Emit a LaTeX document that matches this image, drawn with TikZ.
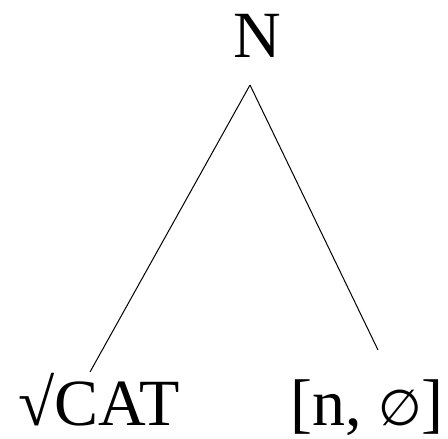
\documentclass[tikz,border=0pt]{standalone}
\usepackage{fontspec}
\setmainfont{Liberation Serif}
\newfontfamily\symfont{DejaVu Sans}
\begin{document}
\begin{tikzpicture}[x=1pt, y=-1pt]
    % Rahmen
    \useasboundingbox (0,0) rectangle (448,439);

    % Knoten
    \tikzset{label/.style={font=\fontsize{66}{70}\selectfont, inner sep=0pt, anchor=base}}
    \node[label] (root) at (257,57) {N};
    \node[label] (cat) at (99,425) {√CAT};
    \node[label] (set) at (367,425) {[n, {\symfont\fontsize{50}{70}\selectfont ∅}]};

    % Aeste
    \draw[line width=1pt] ([xshift=-7pt,yshift=-28pt]root.base) -- ([xshift=-9pt,yshift=53pt]cat.base);
    \draw[line width=1pt] ([xshift=-7pt,yshift=-28pt]root.base) -- ([xshift=11pt,yshift=75pt]set.base);
\end{tikzpicture}
\end{document}
